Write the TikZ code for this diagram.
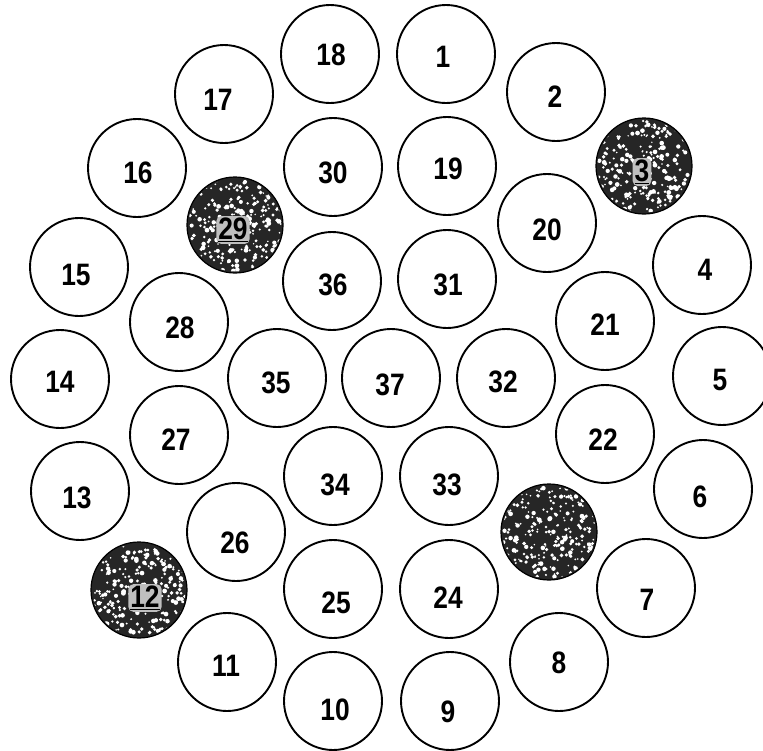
\documentclass[tikz,border=0pt]{standalone}
\usepackage{fontspec}
\setmainfont{Liberation Sans}[FakeStretch=0.85]
\usetikzlibrary{calc}
\begin{document}
\begin{tikzpicture}[x=1pt,y=-1pt,
  wire/.style={circle,draw=black,line width=1.9pt,minimum size=98pt,inner sep=0pt,fill=white},
  darkwire/.style={circle,draw=black,line width=1.2pt,minimum size=96pt,inner sep=0pt,fill=black!85},
  num/.style={font=\bfseries\fontsize{31}{31}\selectfont,inner sep=0pt},
  darknum/.style={num,fill=black!25,inner sep=2pt,rounded corners=5pt}]
\path[use as bounding box,fill=white] (0,0) rectangle (763,750);
% plain wires: name / centre / label position
\foreach \n/\cx/\cy/\lx/\ly in {
  1/446/54/443/57, 2/556/92/555/97, 4/702/265/705/270, 5/722/376/720/380,
  6/703/489/700/497, 7/646/588/647/600, 8/559/662/559/663, 9/450/701/448/712,
  10/333/701/335/710, 11/227/662/226/666, 13/80/491/77/498, 14/60/379/60/382,
  15/79/267/76/275, 16/137/168/138/173, 17/224/94/218/100, 18/330/54/331/55,
  19/447/166/448/169, 20/547/223/547/230, 21/605/321/605/325, 22/605/434/603/440,
  24/449/589/448/598, 25/333/589/336/603, 26/236/532/235/543, 27/179/435/176/440,
  28/179/322/180/328, 30/333/167/333/173, 31/447/279/448/285, 32/506/378/503/382,
  33/449/476/447/485, 34/333/476/335/485, 35/277/378/276/383, 36/332/281/333/285,
  37/391/378/390/385}{
  \node[wire] (w\n) at (\cx,\cy) {};
  \node[num] (t\n) at (\lx,\ly) {\n};
}
% dark (marked) wires
\pgfmathsetseed{42}
\foreach \n/\cx/\cy in {3/644/166, 29/235/225, 12/139/590, 23/549/532}{
  \node[darkwire] (w\n) at (\cx,\cy) {};
  \begin{scope}
    \clip (w\n.center) circle[radius=46.5pt];
    \foreach \i in {1,...,260}{
      \pgfmathsetmacro\rx{rand*46}
      \pgfmathsetmacro\ry{rand*46}
      \pgfmathsetmacro\rr{0.8+1.6*rnd}
      \fill[white] ($(w\n.center)+(\rx pt,\ry pt)$) circle[radius=\rr pt];
    }
  \end{scope}
}
\node[darknum] (t3) at (642,172) {\underline{3}};
\node[darknum] (t29) at (233,230) {\underline{29}};
\node[darknum] (t12) at (145,598) {\underline{12}};
\end{tikzpicture}
\end{document}
